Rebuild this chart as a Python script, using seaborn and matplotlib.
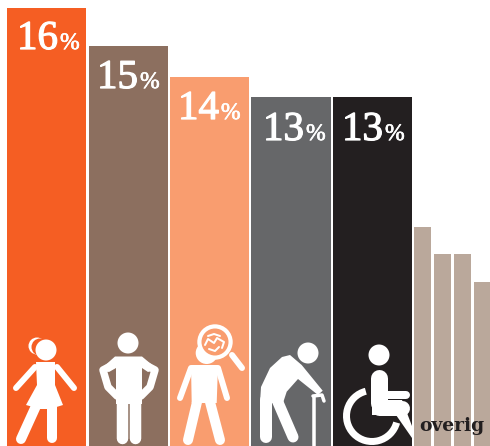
"""
plot.py
Staafdiagram met pictogrammen, getekend met seaborn.
"""

import matplotlib
matplotlib.use("Agg")
import matplotlib.patheffects as pe
import matplotlib.pyplot as plt
import pandas as pd
import seaborn as sns
from matplotlib.patches import Arc, Circle, Polygon, Rectangle

W, H = 490, 446

groups = ["kinderen", "mannen", "verstandelijk", "ouderen", "gehandicapt"]
group_values = [16.0, 14.6, 13.45, 12.75, 12.75]
group_labels = ["16", "15", "14", "13", "13"]
group_colors = ["#F55E23", "#8C6F5F", "#F99D6F", "#666769", "#231F20"]

other_groups = ["a", "b", "c", "d"]
other_values = [8, 7, 7, 6]
other_color = "#BAA89B"
other_label = "overig"

PX_PER_UNIT = 27.4  # hoogte van een procentpunt in pixels

sns.set_theme(style="white")
plt.rcParams["font.family"] = ["Liberation Serif", "DejaVu Serif"]

fig = plt.figure(figsize=(W / 100, H / 100), dpi=100)


def px_axes(left, right):
    return fig.add_axes([left / W, 0, (right - left) / W, 16 * PX_PER_UNIT / H])


# grote staven
ax = px_axes(6.1, 413.1)
df = pd.DataFrame({"groep": groups, "waarde": group_values})
sns.barplot(data=df, x="groep", y="waarde", hue="groep", palette=group_colors,
            width=0.972, legend=False, saturation=1, linewidth=0, ax=ax)
ax.set_ylim(0, 16)
ax.axis("off")

# kleine staven
ax2 = px_axes(412.5, 492.5)
df2 = pd.DataFrame({"groep": other_groups, "waarde": other_values})
sns.barplot(data=df2, x="groep", y="waarde", color=other_color,
            width=0.85, saturation=1, linewidth=0, ax=ax2)
ax2.set_ylim(0, 16)
ax2.axis("off")

# overlay in pixels voor tekst en pictogrammen
ov = fig.add_axes([0, 0, 1, 1], facecolor="none")
ov.set_xlim(0, W)
ov.set_ylim(H, 0)
ov.axis("off")

# percentages
digit_x = [17, 97, 178, 263, 342]
digit_y = [49, 88, 119, 140, 140]
thick = [pe.withStroke(linewidth=0.9, foreground="white")]
thin = [pe.withStroke(linewidth=0.5, foreground="white")]
for label, x, y in zip(group_labels, digit_x, digit_y):
    t = ov.text(x, y, label, color="white", fontsize=29.5, va="baseline", ha="left", path_effects=thick)
    bb = t.get_window_extent(fig.canvas.get_renderer())
    ov.text(bb.x1 + 2, y, "%", color="white", fontsize=17, va="baseline", ha="left", path_effects=thin)

ov.text(419, 431, other_label, color="#231F20", fontsize=13.5, fontweight="bold",
        family=["DejaVu Serif"], va="baseline", ha="left")


def lw(px):
    return px * 0.72


def limb(points, width, color="white", cap="round"):
    xs = [p[0] for p in points]
    ys = [p[1] for p in points]
    ov.plot(xs, ys, color=color, lw=lw(width), solid_capstyle=cap, solid_joinstyle="round")


def head(x, y, r, color="white"):
    ov.add_patch(Circle((x, y), r, fc=color, ec="none"))


def poly(points, color="white"):
    ov.add_patch(Polygon(points, closed=True, fc=color, ec="none"))


# meisje
head(37, 346, 8.5)
head(40, 347, 8.5, group_colors[0])
head(46, 350, 10.5)
poly([(36, 362), (55, 362), (55, 385), (63, 405), (50, 409), (40, 409), (26, 405), (37, 385)])
limb([(35, 367), (16, 388)], 6)
limb([(57, 367), (74, 388)], 6)
limb([(36, 406), (21, 439)], 10)
limb([(51.5, 407), (51.5, 438)], 10)

# man
head(128, 343, 10.5)
poly([(101, 369), (115, 356.5), (142, 356.5), (157, 369), (148, 372), (142, 368), (116, 368), (109, 372)])
ov.add_patch(Rectangle((116, 358), 25.5, 46, fc="white", ec="none"))
limb([(120, 361), (103, 370), (108, 387), (117, 396)], 7.5)
limb([(138, 361), (155, 370), (150, 387), (141, 396)], 7.5)
limb([(122, 400), (122, 438)], 11.5)
limb([(135, 400), (135, 438)], 11.5)

# vergrootglas
poly([(191, 365), (218, 365), (216.7, 403), (191.7, 403)])
head(206.7, 353, 11)
limb([(191, 368), (180, 398)], 6)
limb([(218, 368), (227, 398)], 6)
limb([(197, 402), (188, 440)], 10)
limb([(210, 402), (220, 440)], 10)
limb([(232, 355), (242, 368)], 6)
head(215, 342, 17.7)
head(215, 342, 13.5, group_colors[2])
limb([(205, 345), (208, 339), (214, 343), (217, 338), (224, 342), (222, 348)], 2)
limb([(208, 336), (214, 334), (220, 336)], 2)
limb([(209, 349), (215, 351), (219, 347)], 2)

# oudere
head(308, 353, 10.5)
poly([(290, 355), (301.7, 365), (322.7, 390.7), (318, 395), (298, 379), (286.7, 391.7), (283, 403),
      (260, 403), (261, 387), (270, 368), (282, 357)])
limb([(266, 400), (266, 437)], 12)
limb([(277, 400), (293, 437)], 11)
limb([(313, 396), (322, 395), (324, 401)], 3.5)
limb([(314, 396), (314, 446)], 3.5, cap="butt")

# rolstoel
head(379, 355, 10.5)
limb([(379, 378), (379, 403)], 17)
limb([(379, 408), (402, 408)], 15)
poly([(372, 400), (402, 400), (412, 426), (412, 438), (396, 415), (372, 415)])
limb([(385, 395), (406, 395)], 8)
ov.add_patch(Arc((372, 416), 51, 51, theta1=15, theta2=256, lw=lw(7), color="white", capstyle="butt"))

fig.savefig("out.png", dpi=100)
